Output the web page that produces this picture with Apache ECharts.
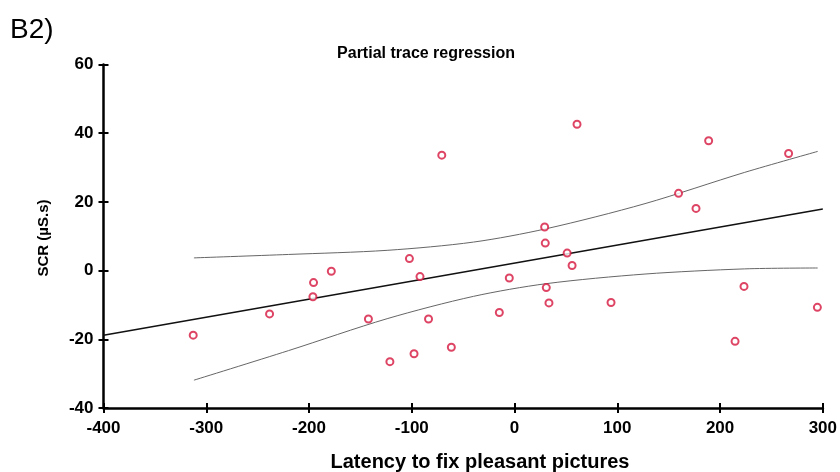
<!DOCTYPE html>
<html>
<head>
<meta charset="utf-8">
<script src="https://cdn.jsdelivr.net/npm/echarts@6/dist/echarts.min.js"></script>
<style>
html,body{margin:0;padding:0;background:#fff;}
#c{width:840px;height:472px;}
</style>
</head>
<body>
<div id="c"></div>
<script>
// Scatter data: latency (x) and SCR (y)
var latency = [-312.7, -238.4, -196.2, -195.6, -178.3, -102.3, -92.0, -142.2, -121.3, -97.8,
               -83.7, -61.5, -70.8, -14.8, -5.1, 29.3, 29.9, 51.2, 56.0, 30.9,
               33.5, 60.8, 93.9, 159.6, 176.6, 188.9, 266.7, 223.3, 214.6, 294.7];
var scr = [-18.8, -12.6, -7.6, -3.5, -0.2, 3.5, -1.75, -14.1, -26.5, -24.2,
           -14.1, -22.3, 33.6, -12.2, -2.15, 12.7, 8.0, 5.1, 1.5, -4.95,
           -9.4, 42.6, -9.3, 22.5, 18.1, 37.8, 34.1, -4.6, -20.6, -10.7];

// Fit line endpoints
var fitX = [-400, 300];
var fitY = [-18.8, 17.9];

// Confidence band
var ciX = [-312, -220, -124, -40, 31, 127, 224, 295];
var ciUpper = [3.7, 4.7, 5.9, 8.3, 12.2, 19.5, 28.6, 34.7];
var ciLower = [-31.9, -23.3, -14.0, -7.5, -3.8, -1.0, 0.5, 0.76];

// Axis ticks
var xMin = -400, xMax = 300, xStep = 100;
var yMin = -40, yMax = 60, yStep = 20;

function zip(a, b) { return a.map(function (v, i) { return [v, b[i]]; }); }

var chart = echarts.init(document.getElementById('c'), null, {renderer: 'canvas'});
var font = 'Arial, "Liberation Sans", sans-serif';
var axisCommon = {
  type: 'value',
  splitLine: {show: false},
};
chart.setOption({
  animation: false,
  backgroundColor: '#fff',
  grid: {left: 103.5, right: 11.3, top: 64.5, bottom: 64},
  xAxis: [
    Object.assign({}, axisCommon, {
      min: xMin, max: xMax, interval: xStep,
      axisLine: {show: true, onZero: false, lineStyle: {color: '#000', width: 2.5}},
      axisTick: {show: true, inside: false, length: 5, lineStyle: {color: '#000', width: 2}},
      axisLabel: {color: '#000', fontFamily: font, fontWeight: 'bold', fontSize: 17, margin: 12}
    }),
    Object.assign({}, axisCommon, {
      min: xMin, max: xMax, interval: xStep, position: 'bottom',
      axisLine: {show: false, onZero: false},
      axisTick: {show: true, inside: true, length: 5, lineStyle: {color: '#000', width: 2}},
      axisLabel: {show: false}
    })
  ],
  yAxis: [
    Object.assign({}, axisCommon, {
      min: yMin, max: yMax, interval: yStep,
      axisLine: {show: true, onZero: false, lineStyle: {color: '#000', width: 2.5}},
      axisTick: {show: true, inside: false, length: 5, lineStyle: {color: '#000', width: 2}},
      axisLabel: {color: '#000', fontFamily: font, fontWeight: 'bold', fontSize: 17, margin: 10}
    }),
    Object.assign({}, axisCommon, {
      min: yMin, max: yMax, interval: yStep, position: 'left',
      axisLine: {show: false, onZero: false},
      axisTick: {show: true, inside: true, length: 5, lineStyle: {color: '#000', width: 2}},
      axisLabel: {show: false}
    })
  ],
  graphic: [
    {type: 'text', left: 10, top: 16, style: {text: 'B2)', font: '28px ' + font, fill: '#000'}},
    {type: 'text', x: 426, y: 54, style: {text: 'Partial trace regression', font: 'bold 16px ' + font, fill: '#000', textAlign: 'center', textVerticalAlign: 'middle'}},
    {type: 'text', x: 480, y: 462, style: {text: 'Latency to fix pleasant pictures', font: 'bold 20px ' + font, fill: '#000', textAlign: 'center', textVerticalAlign: 'middle'}},
    {type: 'text', x: 44, y: 238, rotation: Math.PI / 2, style: {text: 'SCR (µS.s)', font: 'bold 15px ' + font, fill: '#000', textAlign: 'center', textVerticalAlign: 'middle'}}
  ],
  series: [
    {type: 'line', data: zip(ciX, ciUpper), smooth: 0.3, symbol: 'none', lineStyle: {color: '#666', width: 1}, z: 2},
    {type: 'line', data: zip(ciX, ciLower), smooth: 0.3, symbol: 'none', lineStyle: {color: '#666', width: 1}, z: 2},
    {type: 'line', data: zip(fitX, fitY), symbol: 'none', lineStyle: {color: '#111', width: 1.5}, z: 3},
    {type: 'scatter', data: zip(latency, scr), symbol: 'circle', symbolSize: 7,
     itemStyle: {color: '#fff', borderColor: '#d6163f', borderWidth: 2}, z: 4}
  ]
});
</script>
</body>
</html>
